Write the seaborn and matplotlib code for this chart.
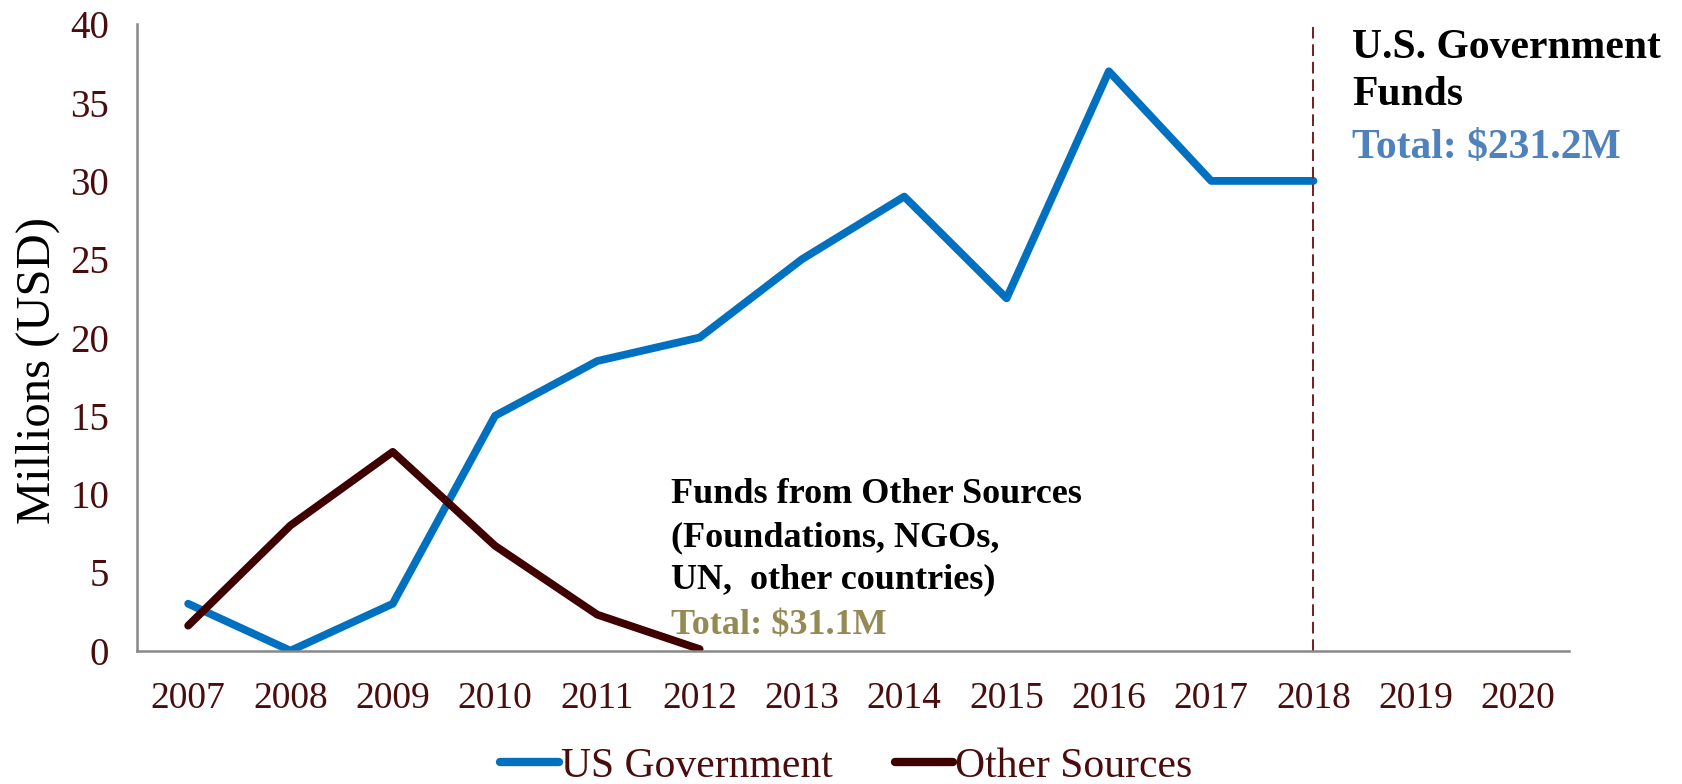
import pandas as pd
import seaborn as sns
import matplotlib.pyplot as plt

years = [str(y) for y in range(2007, 2021)]
us_gov = [3.0, 0.0, 3.0, 15.0, 18.5, 20.0, 25.0, 29.0, 22.5, 37.0, 30.0, 30.0]
other = [1.6, 8.0, 12.7, 6.7, 2.3, 0.1]

rows = []
for i, v in enumerate(us_gov):
    rows.append((i, v, "US Government"))
for i, v in enumerate(other):
    rows.append((i, v, "Other Sources"))
df = pd.DataFrame(rows, columns=["pos", "value", "source"])

sns.set_style("white")
plt.rcParams["font.family"] = ["Liberation Serif", "DejaVu Serif"]

maroon = "#4a0c0c"
fig = plt.figure(figsize=(16.83, 7.84), dpi=100)
ax = fig.add_axes([0.0814, 0.170, 0.851, 0.799])

sns.lineplot(data=df, x="pos", y="value", hue="source",
             palette={"US Government": "#0070C0", "Other Sources": "#3F0000"},
             linewidth=5.6, ax=ax, legend=False)

# dashed marker at 2018
ax.vlines(years.index("2018"), 0, 39.8, colors="#7a1a1a", linestyles=(0, (6, 3)), linewidth=1.4)

ax.set_xlim(-0.5, len(years) - 0.5)
ax.set_ylim(0, 40)
ax.set_yticks(range(0, 41, 5))
ax.set_xticks([i - 0.5 for i in range(len(years) + 1)])
ax.set_xticklabels([])
ax.set_xticks(range(len(years)), minor=True)
ax.set_xticklabels(years, minor=True)
ax.tick_params(axis="x", which="major", length=12, width=1.5, color="#888888", direction="out")
ax.tick_params(axis="x", which="minor", length=0, pad=22, labelsize=27, labelcolor=maroon)
ax.tick_params(axis="y", length=12, width=1.5, color="#888888", direction="out",
               labelsize=28, labelcolor=maroon, pad=8)
for s in ["top", "right"]:
    ax.spines[s].set_visible(False)
for s in ["left", "bottom"]:
    ax.spines[s].set_color("#888888")
    ax.spines[s].set_linewidth(1.8)

ax.set_xlabel("")
ax.set_ylabel("Millions (USD)", fontsize=35, color="black")
ax.yaxis.set_label_coords(-0.054, 0.448)

ax.text(4.72, 11.0, "Funds from Other Sources\n(Foundations, NGOs,\nUN,  other countries)",
        fontsize=26, fontweight="bold", color="black", va="top", ha="left", linespacing=1.38)
ax.text(4.72, 1.55, "Total: $31.1M", fontsize=26, fontweight="bold", color="#948A54",
        va="center", ha="left")
ax.text(11.38, 39.7, "U.S. Government\nFunds", fontsize=30, fontweight="bold",
        color="black", va="top", ha="left", linespacing=1.3)
ax.text(11.38, 32.1, "Total: $231.2M", fontsize=30, fontweight="bold",
        color="#4F81BD", va="center", ha="left")

handles = [plt.Line2D([], [], color="#0070C0", lw=6),
           plt.Line2D([], [], color="#3F0000", lw=6)]
leg = fig.legend(handles, ["US Government", "Other Sources"], loc="center",
                 bbox_to_anchor=(0.503, 0.022), ncol=2, frameon=False, fontsize=30,
                 handlelength=1.4, handletextpad=0.05, columnspacing=1.5)
for t in leg.get_texts():
    t.set_color(maroon)

fig.savefig("out.png", dpi=100)
